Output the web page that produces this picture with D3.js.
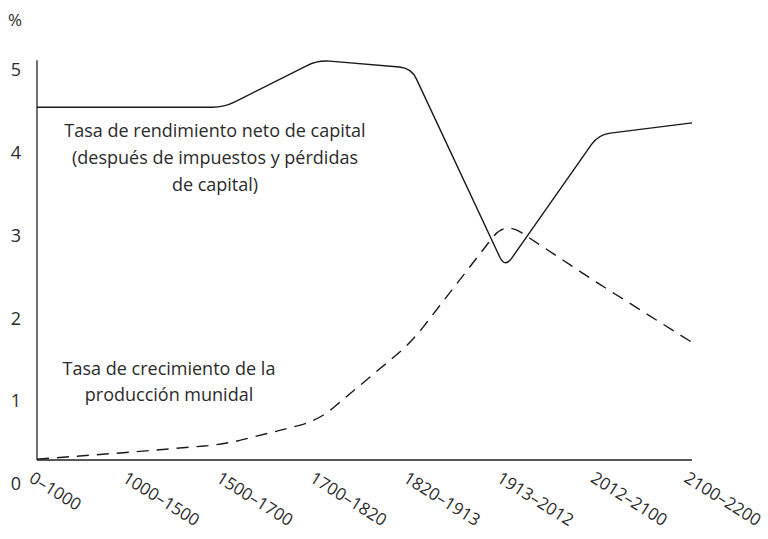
<!DOCTYPE html>
<html lang="es">
<head>
<meta charset="UTF-8">
<script src="https://cdn.jsdelivr.net/npm/d3@7"></script>
<style>
  body { margin: 0; background: #fff; }
  text { font-family: "Open Sans", sans-serif; fill: #2b2b2b; }
</style>
</head>
<body>
<div id="chart"></div>
<script>
// periodos (eje x)
var periods = ["0–1000", "1000–1500", "1500–1700", "1700–1820", "1820–1913", "1913–2012", "2012–2100", "2100–2200"];
// tasa de rendimiento neto de capital (%)
var returnRate = [4.5, 4.5, 4.5, 5.1, 5.0, 2.45, 4.15, 4.3];
// tasa de crecimiento de la producción mundial (%)
var growthRate = [0.01, 0.1, 0.2, 0.5, 1.5, 3.04, 2.25, 1.5];
var yTicks = [0, 1, 2, 3, 4, 5];

var width = 768, height = 539;
var svg = d3.select("#chart").append("svg").attr("width", width).attr("height", height);

var x = d3.scalePoint().domain(periods).range([37, 692]);
var y = d3.scaleLinear().domain([0, 5]).range([460, 68]);
// the printed tick numbers sit on a slightly wider grid than the curves
var yLab = d3.scaleLinear().domain([0, 5]).range([484, 70]);

// polyline with small rounded corners
function roundedCurve(r) {
  return function(context) {
    var pts;
    return {
      areaStart: function() {}, areaEnd: function() {},
      lineStart: function() { pts = []; },
      point: function(px, py) { pts.push([px, py]); },
      lineEnd: function() {
        var n = pts.length;
        context.moveTo(pts[0][0], pts[0][1]);
        for (var i = 1; i < n - 1; i++) {
          var p = pts[i - 1], c = pts[i], q = pts[i + 1];
          var d1 = Math.hypot(c[0] - p[0], c[1] - p[1]);
          var d2 = Math.hypot(q[0] - c[0], q[1] - c[1]);
          var a = Math.min(r, d1 / 2), b = Math.min(r, d2 / 2);
          context.lineTo(c[0] - (c[0] - p[0]) / d1 * a, c[1] - (c[1] - p[1]) / d1 * a);
          context.quadraticCurveTo(c[0], c[1], c[0] + (q[0] - c[0]) / d2 * b, c[1] + (q[1] - c[1]) / d2 * b);
        }
        context.lineTo(pts[n - 1][0], pts[n - 1][1]);
      }
    };
  };
}

// ejes
svg.append("line").attr("x1", x.range()[0]).attr("x2", x.range()[0])
  .attr("y1", y(0)).attr("y2", y(5.1)).attr("stroke", "#222").attr("stroke-width", 1.3);
svg.append("line").attr("x1", x.range()[0]).attr("x2", x.range()[1])
  .attr("y1", y(0)).attr("y2", y(0)).attr("stroke", "#222").attr("stroke-width", 1.3);

var yaxis = svg.append("g").attr("transform", "translate(21,0)")
  .call(d3.axisLeft(yLab).tickValues(yTicks).tickSize(0).tickPadding(0).tickFormat(d3.format("d")));
yaxis.select(".domain").remove();
yaxis.selectAll("text").style("font-family", "Open Sans, sans-serif").style("font-size", "18px").attr("fill", "#2b2b2b");

svg.append("text").attr("x", 8).attr("y", 26).style("font-size", "17px").text("%");

// etiquetas del eje x
svg.selectAll(".xl").data(periods).enter().append("text")
  .attr("class", "xl")
  .attr("transform", function(d) { return "translate(" + (x(d) - 9) + ",481) rotate(32)"; })
  .style("font-size", "17px")
  .text(function(d) { return d; });

// líneas
var line = d3.line()
  .x(function(d, i) { return x(periods[i]); })
  .y(function(d) { return y(d); });

svg.append("path").datum(returnRate)
  .attr("fill", "none").attr("stroke", "#1a1a1a").attr("stroke-width", 1.4)
  .attr("d", line.curve(roundedCurve(12)));

svg.append("path").datum(growthRate)
  .attr("fill", "none").attr("stroke", "#1a1a1a").attr("stroke-width", 1.4)
  .attr("stroke-dasharray", "12,8")
  .attr("d", line.curve(roundedCurve(20)));

// anotaciones
var note1 = ["Tasa de rendimiento neto de capital", "(después de impuestos y pérdidas", "de capital)"];
svg.selectAll(".n1").data(note1).enter().append("text")
  .attr("class", "n1").attr("x", 215).attr("y", function(d, i) { return 137 + i * 27; })
  .attr("text-anchor", "middle").style("font-size", "18px").text(function(d) { return d; });

var note2 = ["Tasa de crecimiento de la", "producción munidal"];
svg.selectAll(".n2").data(note2).enter().append("text")
  .attr("class", "n2").attr("x", 169).attr("y", function(d, i) { return 375 + i * 26; })
  .attr("text-anchor", "middle").style("font-size", "18px").text(function(d) { return d; });
</script>
</body>
</html>
